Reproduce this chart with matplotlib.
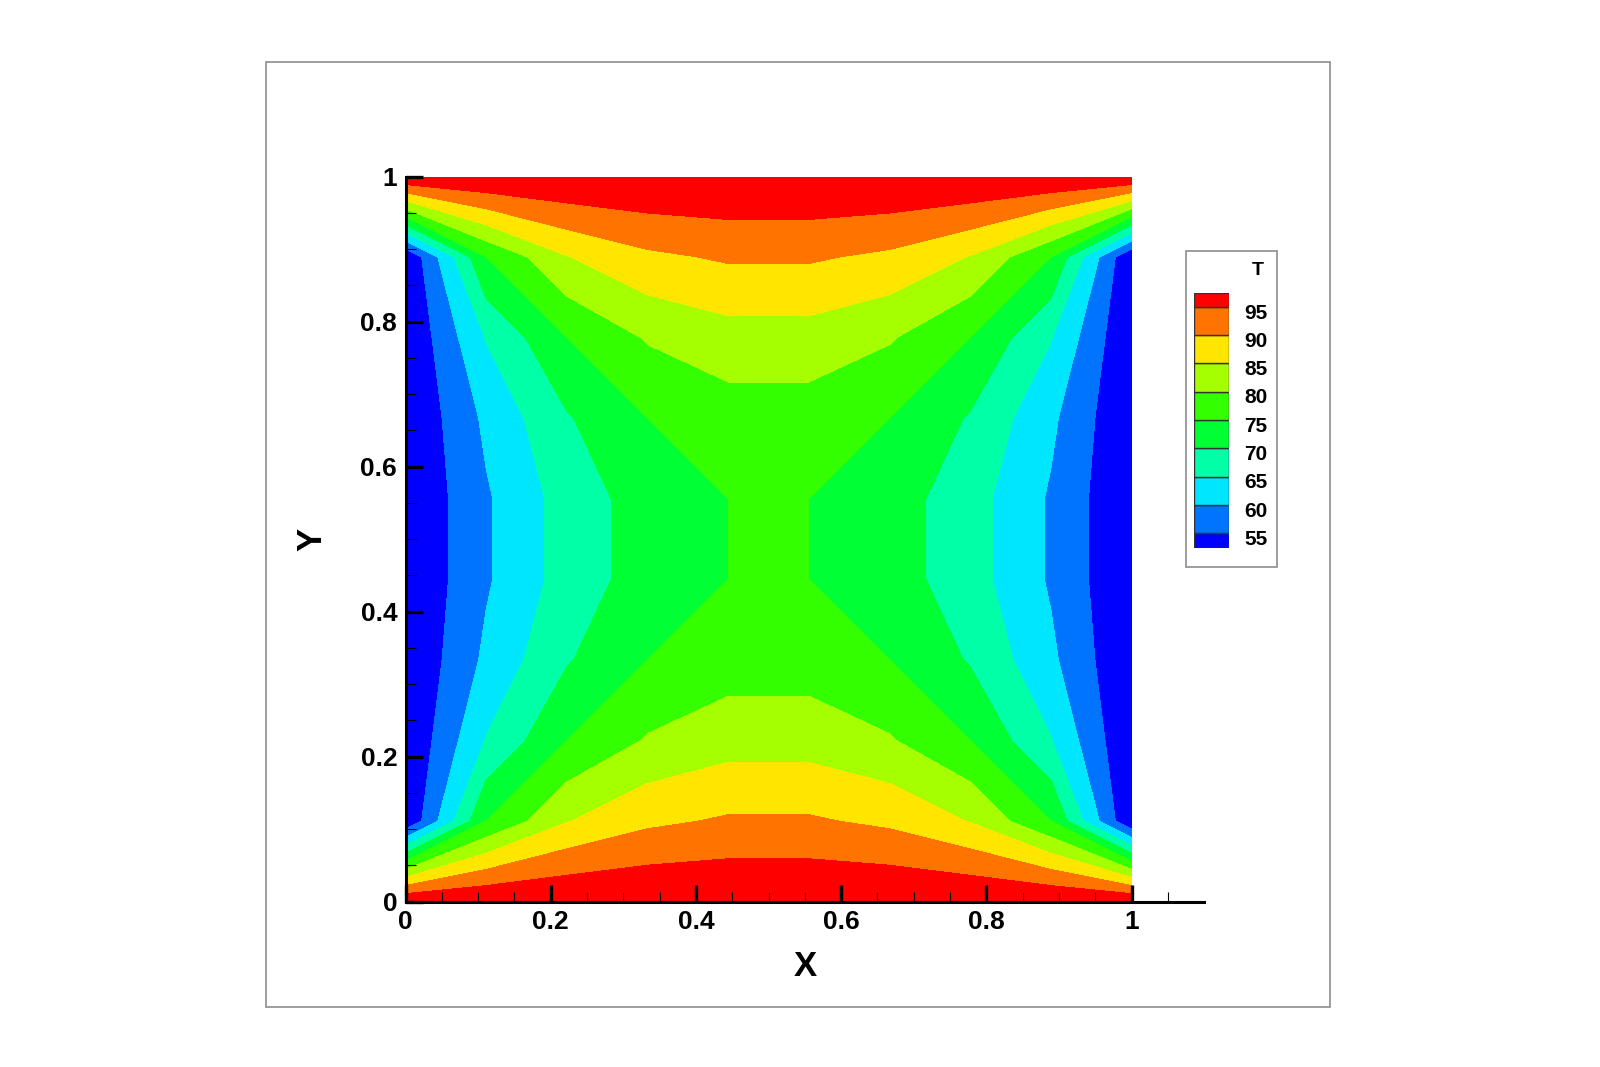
import numpy as np
import matplotlib
matplotlib.use('Agg')
import matplotlib.pyplot as plt
import matplotlib.transforms as mtransforms
from matplotlib.patches import Rectangle
from matplotlib.font_manager import fontManager

# grid nodes (10 x 10, uniform)
x_nodes = np.linspace(0, 1, 10)
y_nodes = np.linspace(0, 1, 10)

# temperature at the nodes, rows = y (bottom to top), columns = x (left to right)
T = np.array([
    [100, 100.00, 100.00, 100.00, 100.00, 100.00, 100.00, 100.00, 100.00, 100],
    [50, 75.00, 84.74, 88.96, 90.62, 90.62, 88.96, 84.74, 75.00, 50],
    [50, 65.26, 75.00, 80.47, 82.91, 82.91, 80.47, 75.00, 65.26, 50],
    [50, 61.04, 69.53, 75.00, 77.63, 77.63, 75.00, 69.53, 61.04, 50],
    [50, 59.38, 67.10, 72.37, 75.00, 75.00, 72.37, 67.10, 59.38, 50],
    [50, 59.38, 67.10, 72.37, 75.00, 75.00, 72.37, 67.10, 59.38, 50],
    [50, 61.04, 69.53, 75.00, 77.63, 77.63, 75.00, 69.53, 61.04, 50],
    [50, 65.26, 75.00, 80.47, 82.91, 82.91, 80.47, 75.00, 65.26, 50],
    [50, 75.00, 84.74, 88.96, 90.62, 90.62, 88.96, 84.74, 75.00, 50],
    [100, 100.00, 100.00, 100.00, 100.00, 100.00, 100.00, 100.00, 100.00, 100],
])

levels = [45, 55, 60, 65, 70, 75, 80, 85, 90, 95, 105]
legend_levels = [55, 60, 65, 70, 75, 80, 85, 90, 95]
band_colors = ['#0000ff', '#0073ff', '#00e6ff', '#00ffa6', '#00ff33',
               '#33ff00', '#a6ff00', '#ffe600', '#ff7300', '#ff0000']
tick_vals = [0, 0.2, 0.4, 0.6, 0.8, 1]
tick_labels = ['0', '0.2', '0.4', '0.6', '0.8', '1']

# condensed bold look if a narrow family is around
names = {f.name for f in fontManager.ttflist}
fam = [n for n in ['Liberation Sans Narrow', 'Liberation Sans', 'DejaVu Sans'] if n in names]
plt.rcParams['font.family'] = fam
plt.rcParams['font.weight'] = 'bold'

fig = plt.figure(figsize=(16, 10.67), dpi=100)

# outer frame
fig.add_artist(Rectangle((0.16625, 0.05623), 0.665, 0.88566, transform=fig.transFigure,
                         fill=False, ec='#8c8c8c', lw=1.2))

ax = fig.add_axes([0.25344, 0.15492, 0.49913, 0.67966])
# shift levels a hair so values sitting on a level go to the upper band (Tecplot style)
ax.contourf(x_nodes, y_nodes, T, levels=np.array(levels) - 1e-6, colors=band_colors)

ax.set_xlim(0, 1.1)
ax.set_ylim(0, 1)
ax.spines['top'].set_visible(False)
ax.spines['right'].set_visible(False)
ax.spines['left'].set_bounds(0, 1)
for s in ('left', 'bottom'):
    ax.spines[s].set_linewidth(2.2)
    ax.spines[s].set_zorder(5)

ax.set_xticks(tick_vals)
ax.set_yticks(tick_vals)
ax.set_xticklabels(tick_labels)
ax.set_yticklabels(tick_labels)
ax.set_xticks(np.arange(0.05, 1.06, 0.05), minor=True)
ax.set_yticks(np.arange(0.05, 1.0, 0.05), minor=True)
ax.tick_params(which='major', direction='in', length=12, width=2.4, pad=6, labelsize=19)
ax.tick_params(which='minor', direction='in', length=7, width=0.8)
for lbl in ax.get_xticklabels() + ax.get_yticklabels():
    lbl.set_fontweight('bold')

ax.set_xlabel('X', fontsize=25, fontweight='bold')
ax.set_ylabel('Y', fontsize=25, fontweight='bold')
ax.xaxis.set_label_coords(0.5, -0.066)
ax.yaxis.set_label_coords(-0.096, 0.5)

# legend box
fig.add_artist(Rectangle((0.74125, 0.46832), 0.05669, 0.29672, transform=fig.transFigure,
                         fill=False, ec='#8c8c8c', lw=1.2))
fig.text(0.78594, 0.7469, 'T', fontsize=14, fontweight='bold', ha='center', va='center')

lax = fig.add_axes([0.74625, 0.48679, 0.02206, 0.2389])
bounds = [52.5] + legend_levels + [97.5]
for lo, hi, c in zip(bounds[:-1], bounds[1:], band_colors):
    lax.bar(0, hi - lo, bottom=lo, width=1, color=c, edgecolor='#333333', linewidth=1.0)
lax.set_xlim(-0.5, 0.5)
lax.set_ylim(52.5, 97.5)
for s in lax.spines.values():
    s.set_visible(False)
lax.set_xticks([])
lax.yaxis.tick_right()
lax.set_yticks(legend_levels)
lax.set_yticklabels([str(v) for v in legend_levels])
lax.tick_params(axis='y', length=0, pad=11, labelsize=15)
# nudge legend labels a little below their boundaries, as in the reference
off = mtransforms.ScaledTranslation(0, -3 / 72, fig.dpi_scale_trans)
for lbl in lax.get_yticklabels():
    lbl.set_fontweight('bold')
    lbl.set_transform(lbl.get_transform() + off)

fig.savefig('out.png', dpi=100)
